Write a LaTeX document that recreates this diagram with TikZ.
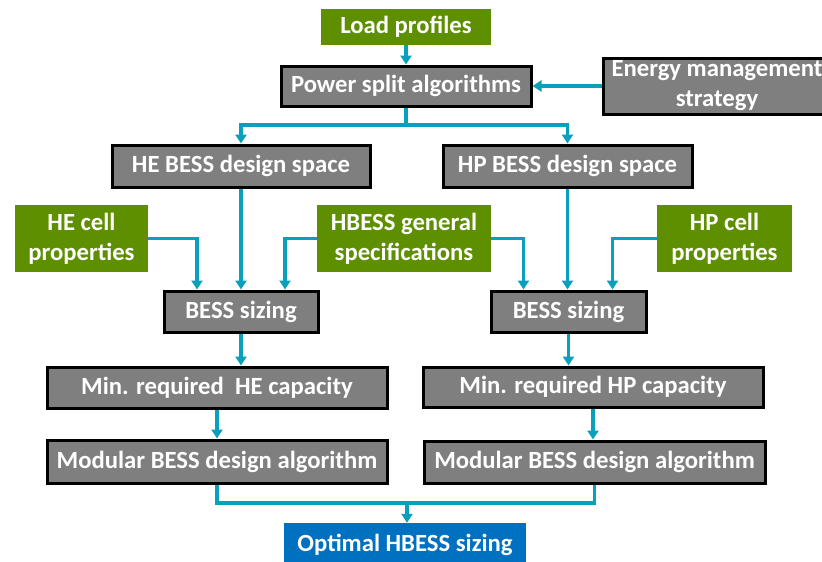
\documentclass[tikz,border=0pt]{standalone}
\usepackage{fontspec}
\setmainfont{Carlito}
\usetikzlibrary{arrows.meta,calc}

\definecolor{boxgray}{RGB}{127,127,127}
\definecolor{inputgreen}{RGB}{94,143,0}
\definecolor{resultblue}{RGB}{0,112,192}
\definecolor{flowteal}{RGB}{8,160,186}

\tikzset{
  base/.style={text=white, font=\fontsize{24.7}{30}\selectfont\bfseries,
    align=center, inner sep=0pt, anchor=center},
  procbox/.style={base, fill=boxgray, draw=black, line width=3pt},
  inbox/.style={base, fill=inputgreen},
  outbox/.style={base, fill=resultblue},
  flow/.style={draw=flowteal, line width=3.2pt,
    -{Triangle[length=9pt,width=11pt]}},
  flowline/.style={draw=flowteal, line width=3.2pt},
}

\begin{document}
\begin{tikzpicture}[x=1pt,y=-1pt]
\useasboundingbox (0,0) rectangle (822,562);

% top row
\node[inbox, minimum width=170pt, minimum height=36pt] (load) at (406,27) {Load profiles};
\node[procbox, minimum width=250pt, minimum height=40pt] (psa) at (406,86) {Power split algorithms};
\node[procbox, minimum width=228pt, minimum height=56pt] (ems) at (717,86) {Energy management\\strategy};

% design spaces
\node[procbox, minimum width=258pt, minimum height=42pt] (hed) at (241,166) {HE BESS design space};
\node[procbox, minimum width=249pt, minimum height=42pt] (hpd) at (567.5,166) {HP BESS design space};

% cell and general inputs
\node[inbox, minimum width=133pt, minimum height=67pt] (hecell) at (81.5,238.5) {HE cell\\properties};
\node[inbox, minimum width=174pt, minimum height=67pt] (gen) at (404,238.5) {HBESS general\\specifications};
\node[inbox, minimum width=135pt, minimum height=67pt] (hpcell) at (724.5,238.5) {HP cell\\properties};

% sizing
\node[procbox, minimum width=154pt, minimum height=41pt] (sizeL) at (241,311.5) {BESS sizing};
\node[procbox, minimum width=155pt, minimum height=41pt] (sizeR) at (568.5,311.5) {BESS sizing};

% capacities
\node[procbox, minimum width=340pt, minimum height=41pt] (minHE) at (217,387.5) {Min. required\ \ HE capacity};
\node[procbox, minimum width=340pt, minimum height=40pt] (minHP) at (593,387) {Min. required HP capacity};

% modular design
\node[procbox, minimum width=340pt, minimum height=43pt] (modL) at (217,461.5) {Modular BESS design algorithm};
\node[procbox, minimum width=341pt, minimum height=42pt] (modR) at (594.5,462) {Modular BESS design algorithm};

% result
\node[outbox, minimum width=242pt, minimum height=44pt] (opt) at (405,545) {Optimal HBESS sizing};

% junction points
\coordinate (split) at (406,125);
\coordinate (merge) at (407,503);

% connectors
\draw[flow] (load) -- (psa);
\draw[flow] (ems.west) -- (psa.east);
\draw[flowline] (psa.south) -- (split);
\draw[flow] (split) -| (hed.north);
\draw[flow] (split) -| (hpd.north);

\draw[flow] (hed.south) -- (sizeL.north);
\draw[flow] (hpd.south) -- (hpd.south |- sizeR.north);
\draw[flow] (hecell.east) -| ([xshift=-44pt]sizeL.north);
\draw[flow] (gen.west) -| ([xshift=44pt]sizeL.north);
\draw[flow] (gen.east) -| ([xshift=-45pt]sizeR.north);
\draw[flow] (hpcell.west) -| ([xshift=44pt]sizeR.north);

\draw[flow] (sizeL.south) -- (sizeL.south |- minHE.north);
\draw[flow] (sizeR.south) -- (sizeR.south |- minHP.north);
\draw[flow] (minHE.south) -- (minHE.south |- modL.north);
\draw[flow] (minHP.south) -- (minHP.south |- modR.north);

\draw[flowline] (modL.south) |- (merge);
\draw[flowline] (modR.south) |- (merge);
\draw[flow] (merge) -- (merge |- opt.north);
\end{tikzpicture}
\end{document}
